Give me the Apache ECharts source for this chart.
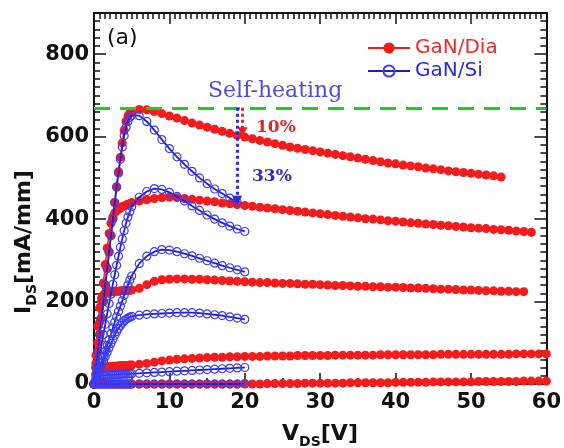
<!DOCTYPE html>
<html><head><meta charset="utf-8">
<script src="https://cdn.jsdelivr.net/npm/echarts@6/dist/echarts.min.js"></script>
<style>html,body{margin:0;padding:0;background:#fff}#c{width:564px;height:448px}</style>
</head><body><div id="c"></div>
<script>
// ---- data ----
const xRed = [0,0.25,0.5,0.75,1,1.25,1.5,1.75,2,2.25,2.5,2.75,3,3.25,3.5,3.75,4,4.25,4.5,4.75,5,
  6,7,8,9,10,11,12,13,14,15,16,17,18,19,20,21,22,23,24,25,26,27,28,29,30,31,32,33,34,35,36,37,38,39,40,
  41,42,43,44,45,46,47,48,49,50,51,52,53,54,55,56,57,58,59,60];
const xBlue = [0,0.25,0.5,0.75,1,1.25,1.5,1.75,2,2.25,2.5,2.75,3,3.25,3.5,3.75,4,4.25,4.5,4.75,5,
  6,7,8,9,10,11,12,13,14,15,16,17,18,19,20];

const red1 = [0,40,80,120,160,200,240,280,320,360,400,440,478,515,550,585,615,637,650,657,661,
  666,665,661,656,650,645,639,633,628,623,618,613,608,603,599,
  595,591,587,583,579,575,572,569,566,563,560,557,554,551,548,545,542,539,536,534,531,529,527,524,522,520,517,515,513,511,509,507,505,502];
const red2 = [0,50,100,150,200,245,290,330,365,390,405,415,420,424,427,430,432,434,436,438,440,
  444,447,450,452,453,452,450,448,446,444,442,439,437,435,433,
  431,429,427,425,423,421,419,417,415,413,411,409,407,405,403,401,400,398,396,395,393,391,390,388,387,385,384,382,381,379,378,377,375,374,373,371,370,368];
const red3 = [0,70,140,185,208,216,220,222,223,224,224,225,225,225,226,226,226,227,227,227,228,
  232,241,249,253,254,255,255,254,254,253,252,251,250,249,248,
  247,246,246,245,244,244,243,242,242,241,240,239,239,238,237,237,236,236,235,235,234,233,233,232,231,230,230,229,228,228,227,226,226,225,225,224,224];
const red4 = [0,25,36,39,40,41,41,42,42,42,43,43,43,44,44,44,45,45,45,46,46,
  48,50,53,56,58,60,61,62,63,64,65,65,66,66,67,
  67,67,68,68,68,68,69,69,69,69,69,70,70,70,70,70,70,71,71,71,71,71,71,71,71,72,72,72,72,72,72,72,72,72,72,73,73,73,73,73];
const red5 = [0,0,0,0,0,0,0,0,0,0,0,0,0,0,0,0,0,0,0,0,0,
  0,0,0,0,0,0,0,0,0,0,0,0,0,0,0,
  0,0,1,1,1,1,1,2,2,2,2,2,2,3,3,3,3,3,3,4,4,4,4,4,5,5,5,5,5,5,6,6,6,6,6,6,7,7,7,7];

const blue1 = [0,40,80,120,160,200,240,280,320,360,400,440,478,512,545,575,602,622,637,647,652,
  651,637,616,593,571,551,533,516,500,486,473,462,451,441];
const blue2 = [0,22,45,70,95,120,145,170,195,218,242,265,288,310,332,352,372,390,405,418,430,
  453,467,474,472,465,455,444,432,421,410,400,391,383,376,370];
const blue3 = [0,12,25,38,52,66,80,94,108,122,136,150,163,176,189,202,215,228,240,252,262,
  292,310,321,326,325,321,316,311,305,299,293,287,282,277,272];
const blue4 = [0,11,22,33,44,55,66,77,88,98,108,118,127,135,142,148,153,157,160,162,164,
  167,169,170,171,172,173,173,173,172,170,168,166,163,160,157];
const blue5 = [0,8,14,18,20,21,21,22,22,22,22,23,23,23,23,24,24,24,24,25,25,
  26,27,28,29,30,31,32,33,34,35,36,37,38,39,40];
const blue6 = [0,0,0,0,0,0,0,0,0,0,0,0,0,0,0,0,0,0,0,0,0,
  0,0,0,0,0,0,0,0,0,0,0,0,0,0,1];

const seriesNames = ['GaN/Dia', 'GaN/Si'];
const xTicks = [0, 10, 20, 30, 40, 50, 60];
const yTicks = [0, 200, 400, 600, 800];
const refLevel = [670];                       // green dashed line
const arrowRed = [[19.7, 670], [19.7, 612]];  // 10% drop
const arrowBlue = [[19.0, 670], [19.0, 446]]; // 33% drop

// ---- chart ----
const RED = '#f21c1c', BLUE = '#1c1cd6', BLUE_C = '#3d3df2';
const FONT = 'DejaVu Sans';
function pts(xs, ys) { return ys.map((y, i) => [xs[i], y]); }

const series = [];
[red1, red2, red3, red4, red5].forEach(ys => series.push({
  name: seriesNames[0], type: 'line', data: pts(xRed, ys), z: 2,
  symbol: 'circle', symbolSize: 9, showAllSymbol: true, clip: false,
  lineStyle: { color: RED, width: 1.5 }, itemStyle: { color: RED }
}));
[blue1, blue2, blue3, blue4, blue5, blue6].forEach(ys => series.push({
  name: seriesNames[1], type: 'line', data: pts(xBlue, ys), z: 3,
  symbol: 'circle', symbolSize: 8, showAllSymbol: true, clip: false,
  lineStyle: { color: BLUE, width: 1.8 },
  itemStyle: { color: 'rgba(255,255,255,0)', borderColor: BLUE_C, borderWidth: 1.2 }
}));
series.push({
  type: 'line', data: [], silent: true, z: 5,
  markLine: {
    silent: true, animation: false, label: { show: false },
    data: [
      [{ coord: [0, refLevel[0]], symbol: 'none' }, { coord: [60, refLevel[0]], symbol: 'none',
        lineStyle: { color: '#22cc22', width: 3, type: [16, 10] } }],
      [{ coord: arrowRed[0], symbol: 'none' }, { coord: arrowRed[1], symbol: 'triangle', symbolSize: [10, 9],
        lineStyle: { color: RED, width: 3, type: [3, 3] } }],
      [{ coord: arrowBlue[0], symbol: 'none' }, { coord: arrowBlue[1], symbol: 'triangle', symbolSize: [10, 9],
        lineStyle: { color: '#2a2ae0', width: 3, type: [3, 3] } }]
    ]
  }
});

const tickLbl = { fontFamily: FONT, fontWeight: 'bold', fontSize: 21, color: '#111' };
const tk = (len) => ({ show: true, inside: true, length: len, lineStyle: { color: '#111', width: 1.5 } });
const line = (show) => ({ show: show, onZero: false, lineStyle: { color: '#111', width: 2 } });
const chart = echarts.init(document.getElementById('c'), null, { renderer: 'canvas' });
chart.setOption({
  animation: false,
  backgroundColor: '#fff',
  grid: { left: 94, right: 13, top: 13, bottom: 64, containLabel: false },
  legend: {
    data: [{ name: seriesNames[0], textStyle: { color: '#ee2a2a' } },
           { name: seriesNames[1], textStyle: { color: '#2a2ae0' } }],
    orient: 'vertical', left: 362, top: 33, itemGap: 3, itemWidth: 42, itemHeight: 14,
    textStyle: { fontFamily: FONT, fontSize: 20 }, selectedMode: false
  },
  xAxis: [
    { type: 'value', position: 'bottom', min: xTicks[0], max: xTicks[xTicks.length - 1], interval: xTicks[1] - xTicks[0],
      axisLine: line(true), axisTick: tk(11),
      minorTick: Object.assign(tk(6), { splitNumber: 2 }),
      splitLine: { show: false }, minorSplitLine: { show: false },
      axisLabel: Object.assign({ show: true, margin: 8 }, tickLbl) },
    { type: 'value', position: 'top', min: xTicks[0], max: xTicks[xTicks.length - 1], interval: xTicks[1] - xTicks[0],
      axisLine: line(true), axisTick: tk(11),
      minorTick: Object.assign(tk(6), { splitNumber: 14 }),
      splitLine: { show: false }, minorSplitLine: { show: false }, axisLabel: { show: false } }
  ],
  yAxis: [
    { type: 'value', position: 'left', min: 0, max: 900, interval: yTicks[1] - yTicks[0],
      axisLine: line(true), axisTick: tk(12), splitLine: { show: false },
      axisLabel: Object.assign({ show: true, margin: 5, formatter: v => (yTicks.indexOf(v) >= 0 ? String(v) : '') }, tickLbl) },
    { type: 'value', position: 'left', min: 0, max: 900, interval: 20,
      axisLine: line(false), axisTick: tk(6), splitLine: { show: false }, axisLabel: { show: false } },
    { type: 'value', position: 'right', min: 0, max: 900, interval: yTicks[1] - yTicks[0],
      axisLine: line(true), axisTick: tk(12), splitLine: { show: false }, axisLabel: { show: false } },
    { type: 'value', position: 'right', min: 0, max: 900, interval: 20,
      axisLine: line(false), axisTick: tk(6), splitLine: { show: false }, axisLabel: { show: false } }
  ],
  series: series,
  graphic: [
    { type: 'text', x: 107, y: 38, style: { text: '(a)', fontFamily: FONT, fontSize: 22, fill: '#111', verticalAlign: 'middle' } },
    { type: 'text', x: 208, y: 91, style: { text: 'Self-heating', fontFamily: 'DejaVu Serif', fontSize: 22, fill: '#4d4de3', verticalAlign: 'middle' } },
    { type: 'text', x: 256, y: 128, style: { text: '10%', fontFamily: 'DejaVu Serif', fontWeight: 'bold', fontSize: 17, fill: '#e52424', verticalAlign: 'middle' } },
    { type: 'text', x: 252, y: 177, style: { text: '33%', fontFamily: 'DejaVu Serif', fontWeight: 'bold', fontSize: 17, fill: '#2a2ac8', verticalAlign: 'middle' } },
    { type: 'text', x: 24, y: 242, rotation: Math.PI / 2,
      style: { text: '{n|I}{s|DS}{n|[mA/mm]}', align: 'center', verticalAlign: 'middle',
        rich: { n: { fontFamily: FONT, fontWeight: 'bold', fontSize: 22, fill: '#111', lineHeight: 30, verticalAlign: 'middle' },
                s: { fontFamily: FONT, fontWeight: 'bold', fontSize: 14, fill: '#111', lineHeight: 30, verticalAlign: 'bottom' } } } },
    { type: 'text', x: 320, y: 434, style: { text: '{n|V}{s|DS}{n|[V]}', align: 'center', verticalAlign: 'middle',
        rich: { n: { fontFamily: FONT, fontWeight: 'bold', fontSize: 22, fill: '#111', lineHeight: 30, verticalAlign: 'middle' },
                s: { fontFamily: FONT, fontWeight: 'bold', fontSize: 14, fill: '#111', lineHeight: 30, verticalAlign: 'bottom' } } } }
  ]
});
</script></body></html>
